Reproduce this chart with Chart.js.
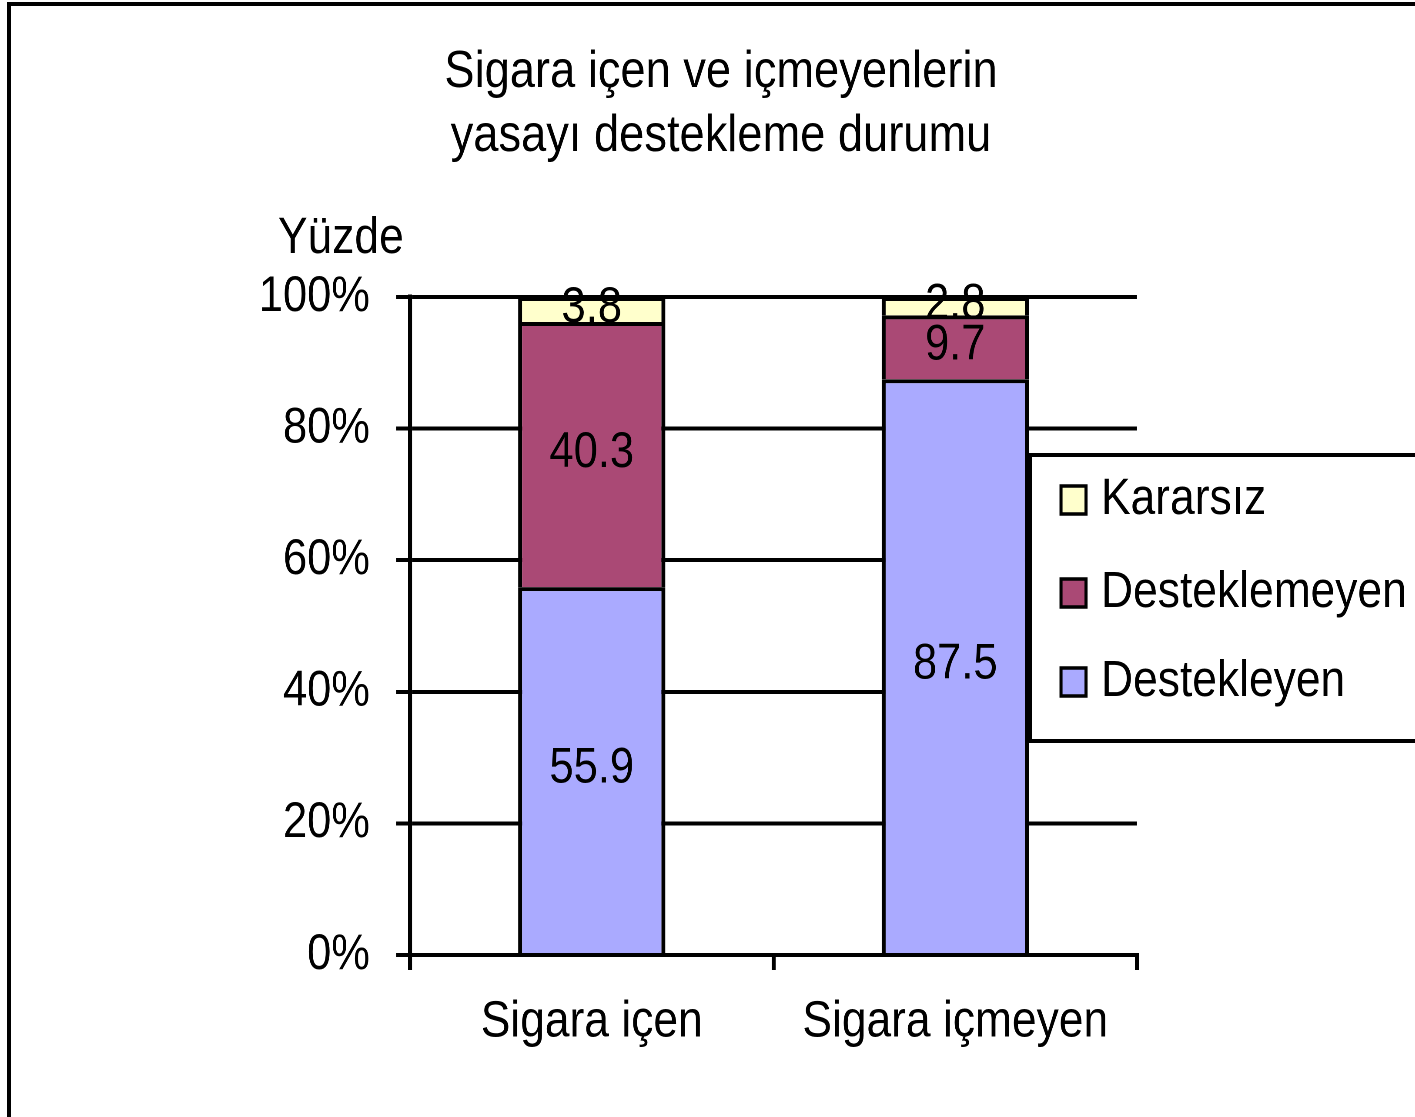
<!DOCTYPE html>
<html>
<head>
<meta charset="utf-8">
<script src="https://cdn.jsdelivr.net/npm/chart.js@4.4.1/dist/chart.umd.min.js"></script>
<style>
  html, body { margin: 0; padding: 0; background: #fff; width: 1415px; height: 1117px; overflow: hidden; }
  #wrap { position: absolute; left: 0; top: 0; width: 1626px; height: 1117px; transform: scaleX(0.87); transform-origin: 0 0; }
  #frame { position: absolute; left: 7px; top: 2px; width: 1500px; height: 1300px; border-top: 4px solid #000; border-left: 4px solid #000; pointer-events: none; }
</style>
</head>
<body>
<div id="wrap"><canvas id="c" width="1626" height="1117"></canvas></div>
<div id="frame"></div>
<script>
// ---- data ----
const titleLines = ['Sigara içen ve içmeyenlerin', 'yasayı destekleme durumu'];
const yAxisTitle = 'Yüzde';
const categories = ['Sigara içen', 'Sigara içmeyen'];
const seriesNames = ['Destekleyen', 'Desteklemeyen', 'Kararsız'];
const destekleyen = [55.9, 87.5];
const desteklemeyen = [40.3, 9.7];
const kararsiz = [3.8, 2.8];
const seriesColors = ['#AAAAFF', '#AA4975', '#FFFFCC'];
const yTicks = [0, 20, 40, 60, 80, 100];

const SX = 0.87; // horizontal compression applied via CSS
const FONT = "'Liberation Sans', Arial, Helvetica, sans-serif";
Chart.defaults.font.family = FONT;
Chart.defaults.color = '#000';

const seriesValues = [destekleyen, desteklemeyen, kararsiz];

const dataLabelPlugin = {
  id: 'segLabels',
  afterDatasetsDraw(chart) {
    const ctx = chart.ctx;
    ctx.save();
    ctx.fillStyle = '#000';
    ctx.font = '50px ' + FONT;
    ctx.textAlign = 'center';
    ctx.textBaseline = 'middle';
    chart.data.datasets.forEach((ds, i) => {
      const meta = chart.getDatasetMeta(i);
      meta.data.forEach((el, j) => {
        const p = el.getProps(['x', 'y', 'base'], true);
        const cy = (p.y + p.base) / 2 - 1.5;
        ctx.fillText(ds.data[j].toFixed(1), p.x, cy);
      });
    });
    ctx.restore();
  }
};

const extrasPlugin = {
  id: 'extras',
  afterDraw(chart) {
    const ctx = chart.ctx;
    ctx.save();
    // title
    ctx.fillStyle = '#000';
    ctx.font = '52px ' + FONT;
    ctx.textAlign = 'center';
    ctx.textBaseline = 'alphabetic';
    const titleBase = [87, 151];
    titleLines.forEach((t, i) => ctx.fillText(t, 721 / SX, titleBase[i]));
    // y-axis title
    ctx.font = '51px ' + FONT;
    ctx.textAlign = 'left';
    ctx.fillText(yAxisTitle, 278 / SX, 253);
    // legend box
    const bx = 1030 / SX, by = 455, bb = 741, br = chart.width + 10;
    ctx.fillStyle = '#fff';
    ctx.fillRect(bx, by, br - bx, bb - by);
    ctx.strokeStyle = '#000';
    ctx.lineWidth = 4;
    ctx.beginPath();
    ctx.moveTo(br, by); ctx.lineTo(bx, by);
    ctx.moveTo(br, bb); ctx.lineTo(bx, bb);
    ctx.stroke();
    ctx.lineWidth = 4.4;
    ctx.beginPath();
    ctx.moveTo(bx, by - 2); ctx.lineTo(bx, bb + 2);
    ctx.stroke();
    // legend items (reverse order)
    const centers = [500, 593, 682];
    const order = [2, 1, 0];
    ctx.font = '51px ' + FONT;
    ctx.textBaseline = 'alphabetic';
    order.forEach((si, k) => {
      const cy = centers[k];
      const sx = 1061 / SX, sw = 25 / SX, sh = 28;
      ctx.fillStyle = seriesColors[si];
      ctx.fillRect(sx, cy - sh / 2, sw, sh);
      ctx.strokeStyle = '#000';
      ctx.lineWidth = 3.5;
      ctx.strokeRect(sx, cy - sh / 2, sw, sh);
      ctx.fillStyle = '#000';
      ctx.fillText(seriesNames[si], 1101 / SX, cy + 14);
    });
    ctx.restore();
  }
};

const plotLeft = 410 / SX, plotRight = 1137 / SX;
const W = 1626;
const padLeft = 150;

new Chart(document.getElementById('c'), {
  type: 'bar',
  data: {
    labels: categories,
    datasets: seriesValues.map((vals, i) => ({
      label: seriesNames[i],
      data: vals,
      backgroundColor: seriesColors[i],
      borderColor: '#000',
      borderWidth: { top: 4, left: 4.6, right: 4.6, bottom: 0 },
      borderSkipped: 'start',
      barPercentage: 0.405,
      categoryPercentage: 1.0
    }))
  },
  options: {
    responsive: false,
    animation: false,
    devicePixelRatio: 2,
    layout: { padding: { left: padLeft, right: W - plotRight, top: 297, bottom: 62 } },
    plugins: {
      legend: { display: false },
      tooltip: { enabled: false },
      title: { display: false }
    },
    scales: {
      x: {
        stacked: true,
        afterFit(s) { s.height = 100; },
        grid: { display: true, drawOnChartArea: false, drawTicks: true, tickLength: 15, color: '#000', lineWidth: 4.6, offset: true },
        border: { display: true, color: '#000', width: 4 },
        ticks: { color: '#000', font: { size: 51 }, padding: 21.7, maxRotation: 0 }
      },
      y: {
        stacked: true,
        min: 0,
        max: 100,
        afterFit(s) { s.width = plotLeft - padLeft; },
        afterBuildTicks(s) { s.ticks = yTicks.map(v => ({ value: v })); },
        grid: { color: '#000', lineWidth: 4, tickLength: 16, drawTicks: true },
        border: { display: true, color: '#000', width: 4.6 },
        ticks: { color: '#000', font: { size: 50 }, padding: 30, callback: v => v + '%' }
      }
    }
  },
  plugins: [dataLabelPlugin, extrasPlugin]
});
</script>
</body>
</html>
